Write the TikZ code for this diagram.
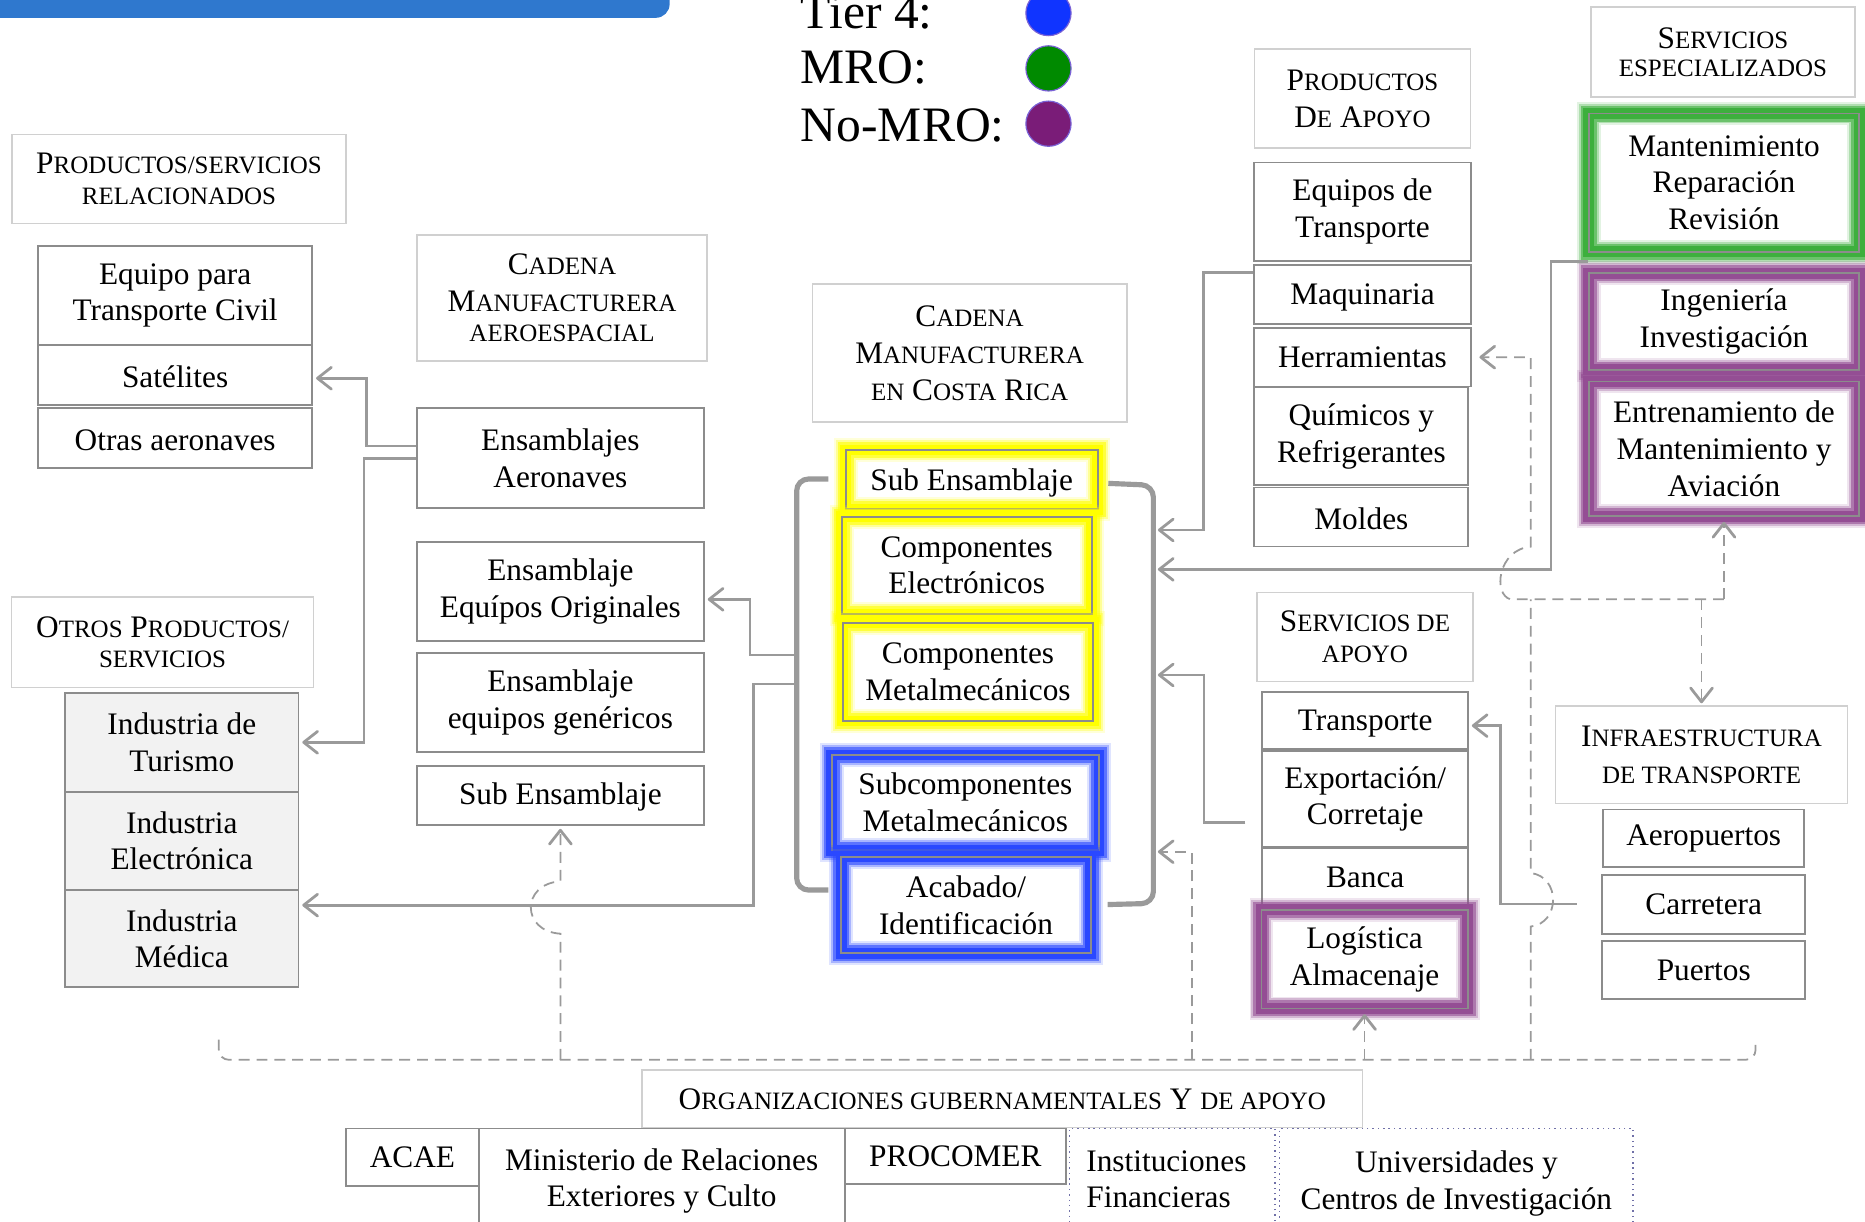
\documentclass[tikz,border=0pt]{standalone}
\usepackage{fontspec}
\setmainfont{Liberation Serif}
\usetikzlibrary{arrows.meta,fit}
\definecolor{bgray}{HTML}{8C8C8C}
\definecolor{hgray}{HTML}{D0D0D0}
\definecolor{cgray}{HTML}{9A9A9A}
\definecolor{indfill}{HTML}{F2F2F2}
\definecolor{barblue}{HTML}{2F78CE}
\definecolor{gyel}{HTML}{FFFF00}
\definecolor{gblue}{HTML}{2A48FF}
\definecolor{ggreen}{HTML}{3DAF3D}
\definecolor{gpurp}{HTML}{944E94}
\definecolor{legblue}{HTML}{1034FF}
\definecolor{leggreen}{HTML}{008A00}
\definecolor{legpurp}{HTML}{7A1C78}
\definecolor{legring}{HTML}{7A62D6}
\definecolor{dotc}{HTML}{7070A8}
\newcommand\bodyfont{\fontsize{15.8pt}{18.5pt}\selectfont}
\newcommand\legfont{\fontsize{25pt}{28pt}\selectfont}
\newcommand\smc[1]{{\fontsize{12.6pt}{13pt}\selectfont #1}}
% box: frame node from corners, text node at its centre
\newcommand\bx[6][box]{\node[#1, fit={(#3) (#4)}] (#2) {};
  \node[txt, #6] (#2-t) at (#2.center) {#5};}
\tikzset{
  box/.style={draw=bgray, line width=0.9pt, fill=white, inner sep=0pt},
  hdr/.style={draw=hgray, line width=0.8pt, fill=white, inner sep=0pt},
  ind/.style={box, fill=indfill},
  dotbox/.style={draw=dotc, line width=0.7pt, dotted, inner sep=0pt},
  txt/.style={align=center, font=\bodyfont, inner sep=0pt},
  glow/.style={draw=bgray, line width=0.9pt, inner sep=0pt,
    preaction={draw=#1, line width=12pt, opacity=0.15},
    preaction={draw=#1, line width=10pt, opacity=0.3},
    preaction={draw=#1, line width=8pt, opacity=0.6},
    preaction={draw=#1, line width=5.5pt}},
  conn/.style={draw=cgray, line width=1.4pt},
  brk/.style={draw=cgray, line width=2.6pt, rounded corners=6pt},
  dsh/.style={draw=cgray, line width=0.9pt, dash pattern=on 5.5pt off 3.5pt},
  arr/.style={-{Straight Barb[length=7pt,width=11pt,line width=1.4pt,round]}, shorten >=1.5pt},
  legc/.style={circle, draw=legring, line width=0.6pt, minimum size=22.8pt, inner sep=0pt}
}
\begin{document}
\begin{tikzpicture}[x=0.6pt,y=-0.6pt]
\useasboundingbox (0,0) rectangle (1568,1027);
\clip (0,0) rectangle (1568,1027);
% top bar
\fill[barblue, rounded corners=7pt] (-20,-40) rectangle (563,15);
% legend
\node[anchor=base west, font=\legfont, inner sep=0pt] (lt4) at (673,23.7) {Tier 4:};
\node[anchor=base west, font=\legfont, inner sep=0pt] (lmro) at (673,70) {MRO:};
\node[anchor=base west, font=\legfont, inner sep=0pt] (lnmro) at (673,119) {No-MRO:};
\node[legc, fill=legblue] (c4) at (881.5,11) {};
\node[legc, fill=leggreen] (cmro) at (881.5,57.5) {};
\node[legc, fill=legpurp] (cnmro) at (881.5,104) {};
% left column
\bx[hdr]{hdrRel}{10,113}{291,188}{P\smc{RODUCTOS/SERVICIOS}\\[-2.9pt]\smc{RELACIONADOS}}{}
\bx{eqTC}{32,207}{262.5,290}{Equipo para\\Transporte Civil}{}
\bx{sat}{32,290}{262.5,340.5}{Satélites}{yshift=-1pt}
\bx{otras}{32,343.3}{262.5,393.8}{Otras aeronaves}{yshift=-1pt}
\bx[hdr]{hdrCad}{350.5,197.6}{594.5,303.3}{C\smc{ADENA}\\M\smc{ANUFACTURERA}\\[-3pt]\smc{AEROESPACIAL}}{}
\bx{ensA}{350.5,343.3}{591.8,426.8}{Ensamblajes\\Aeronaves}{}
\bx{eqOrig}{350.5,456}{591.8,539}{Ensamblaje\\Equípos Originales}{}
\bx{eqGen}{350.5,549.3}{591.8,632.5}{Ensamblaje\\equipos genéricos}{}
\bx{subL}{350.5,643.7}{591.8,693.6}{Sub Ensamblaje}{yshift=-1pt}
\bx[hdr]{hdrOtros}{9.7,502}{263.7,578}{O\smc{TROS} P\smc{RODUCTOS/}\\[-3pt]\smc{SERVICIOS}}{}
\bx[ind]{tur}{54.8,582.4}{250.9,665.6}{Industria de\\Turismo}{}
\bx[ind]{elec}{54.8,665.6}{250.9,748.3}{Industria\\Electrónica}{}
\bx[ind]{med}{54.8,748.3}{250.9,830.1}{Industria\\Médica}{}
% center column
\bx[hdr]{hdrCR}{683,238.8}{947.3,355}{C\smc{ADENA}\\M\smc{ANUFACTURERA}\\\smc{EN} C\smc{OSTA} R\smc{ICA}}{}
\bx[glow=gyel]{subC}{711,378.3}{922.9,428.2}{Sub Ensamblaje}{yshift=-1.5pt}
\bx[glow=gyel]{compE}{707.7,434.4}{917.8,516.2}{Componentes\\Electrónicos}{}
\bx[glow=gyel]{compM}{708.5,523.5}{919.2,606.2}{Componentes\\Metalmecánicos}{}
\bx[glow=gblue]{subcM}{699.2,634.8}{924,714.7}{Subcomponentes\\Metalmecánicos}{}
\bx[glow=gblue]{acab}{707.3,720.3}{917,801.5}{Acabado/\\Identificación}{}
% productos de apoyo
\bx[hdr]{hdrPA}{1054.6,41.4}{1236.4,124.6}{P\smc{RODUCTOS}\\D\smc{E} A\smc{POYO}}{}
\bx{eqT}{1054.6,136.6}{1236.4,219.2}{Equipos de\\Transporte}{}
\bx{maq}{1054.6,222.8}{1236.4,272.6}{Maquinaria}{yshift=-1.5pt}
\bx{herr}{1054.6,275.7}{1236.4,324.9}{Herramientas}{}
\bx{quim}{1054.6,325.8}{1234.5,407.8}{Químicos y\\Refrigerantes}{}
\bx{mold}{1054.6,409.9}{1234.5,459.4}{Moldes}{yshift=-1pt}
% servicios especializados
\bx[hdr]{hdrSE}{1337.4,6}{1559.6,81.7}{S\smc{ERVICIOS}\\[-4pt]\smc{ESPECIALIZADOS}}{}
\bx[glow=ggreen]{mant}{1335.6,95.5}{1563.2,211.7}{Mantenimiento\\Reparación\\Revisión}{}
\bx[glow=gpurp]{ing}{1335.6,229.7}{1563.2,310.8}{Ingeniería\\Investigación}{}
\bx[glow=gpurp]{entr}{1335.6,320.7}{1563.2,433.9}{Entrenamiento de\\Mantenimiento y\\Aviación}{}
% servicios de apoyo
\bx[hdr]{hdrSA}{1057,498}{1238.2,573.1}{S\smc{ERVICIOS DE}\\[-3pt]\smc{APOYO}}{}
\bx{trans}{1061.3,581.5}{1234.2,629.7}{Transporte}{yshift=-1.5pt}
\bx{expo}{1061.3,631.4}{1234.2,711.8}{Exportación/\\Corretaje}{}
\bx{banca}{1061.3,713.2}{1234.2,762.3}{Banca}{}
\bx[glow=gpurp]{logi}{1060.5,765}{1234,847.8}{Logística\\Almacenaje}{}
% infraestructura
\bx[hdr]{hdrInf}{1307.7,593.6}{1553.4,675.4}{I\smc{NFRAESTRUCTURA}\\\smc{DE TRANSPORTE}}{}
\bx{aero}{1347.7,680.5}{1517,729.2}{Aeropuertos}{}
\bx{carr}{1347,735.7}{1517.8,785.3}{Carretera}{}
\bx{puer}{1347,790.9}{1517.8,840.2}{Puertos}{}
% organizaciones
\bx[hdr]{hdrOrg}{539.8,899.6}{1145.6,948.1}{O\smc{RGANIZACIONES GUBERNAMENTALES} Y \smc{DE APOYO}}{}
\bx{acae}{291.2,948.7}{402.4,996.9}{ACAE}{}
\bx{mini}{402.4,948.7}{710.1,1037}{Ministerio de Relaciones\\Exteriores y Culto}{}
\bx{proc}{710.1,948.7}{896.3,995.7}{PROCOMER}{}
\bx[dotbox]{inst}{899.3,948.7}{1072,1034}{Instituciones\\Financieras}{align=left, xshift=-3pt}
\bx[dotbox]{univ}{1075.8,948.7}{1373,1041}{Universidades y\\Centros de Investigación}{}
% brackets
\draw[brk] (696.4,402.7) -- (669.8,402.7) -- (669.8,748.3) -- (696.4,748.3);
\draw[brk] (931.8,406.4) -- (969.7,408) -- (969.7,759.5) -- (931.2,760.5);
\coordinate (lbA) at (669.8,550.7);
\coordinate (lbB) at (669.8,575.1);
\coordinate (rbA) at (971,445.6);
\coordinate (rbB) at (971,478.7);
\coordinate (rbC) at (971,567.5);
\coordinate (rbD) at (971,716.1);
\coordinate (expoOut) at (1047,691.7);
\coordinate (carrOut) at (1325.6,760);
% solid connectors
\draw[conn,arr] (ensA.west |- 0,375) -- (308,375) -- (308,318) -- (sat.east |- 0,318);
\draw[conn,arr] (ensA.west |- 0,385.4) -- (306,385.4) -- (306,624.1) -- (tur.east |- 0,624.1);
\draw[conn,arr] (lbA) -- (630.6,550.7) -- (630.6,503.9) -- (eqOrig.east |- 0,503.9);
\draw[conn,arr] (lbB) -- (633.4,575.1) -- (633.4,761) -- (med.east |- 0,761);
\draw[conn,arr] (maq.west |- 0,229.3) -- (1011.5,229.3) -- (1011.5,445.6) -- (rbA);
\draw[conn,arr] (mant.west |- 0,220) -- (1303.9,220) -- (1303.9,478.7) -- (rbB);
\draw[conn,arr] (expoOut) -- (1012.3,691.7) -- (1012.3,567.5) -- (rbC);
\draw[conn,arr] (carrOut) -- (1261.4,760) -- (1261.4,610.1) -- (trans.east |- 0,610.1);
% dashed network
\draw[dsh, rounded corners=5pt] (184,874) -- (184,891) -- (1476,891) -- (1476,874);
\draw[dsh,arr] (subL.south |- 0,891) -- (subL.south |- 0,785) .. controls (438,783) and (438,743) .. (subL.south |- 0,741) -- (subL.south);
\draw[dsh,arr] (1001.9,891) -- (1001.9,716.1) -- (rbD);
\draw[dsh,arr, shorten >=2.5pt] (logi.south |- 0,891) -- (logi.south);
\draw[dsh] (1287,891) -- (1287,779) .. controls (1312,776) and (1312,737) .. (1287,734) -- (1287,503.9);
\draw[dsh,arr, shorten >=4pt] (entr.south |- 0,503.9) -- (1270,503.9) .. controls (1255,500) and (1259,462) .. (1287,459.6) -- (1287,300.3) -- (herr.east);
\draw[dsh,arr, shorten >=2.5pt] (entr.south |- 0,503.9) -- (entr.south);
\draw[dsh,arr, shorten >=1pt] (hdrInf.north |- 0,503.9) -- (hdrInf.north);
\end{tikzpicture}
\end{document}
